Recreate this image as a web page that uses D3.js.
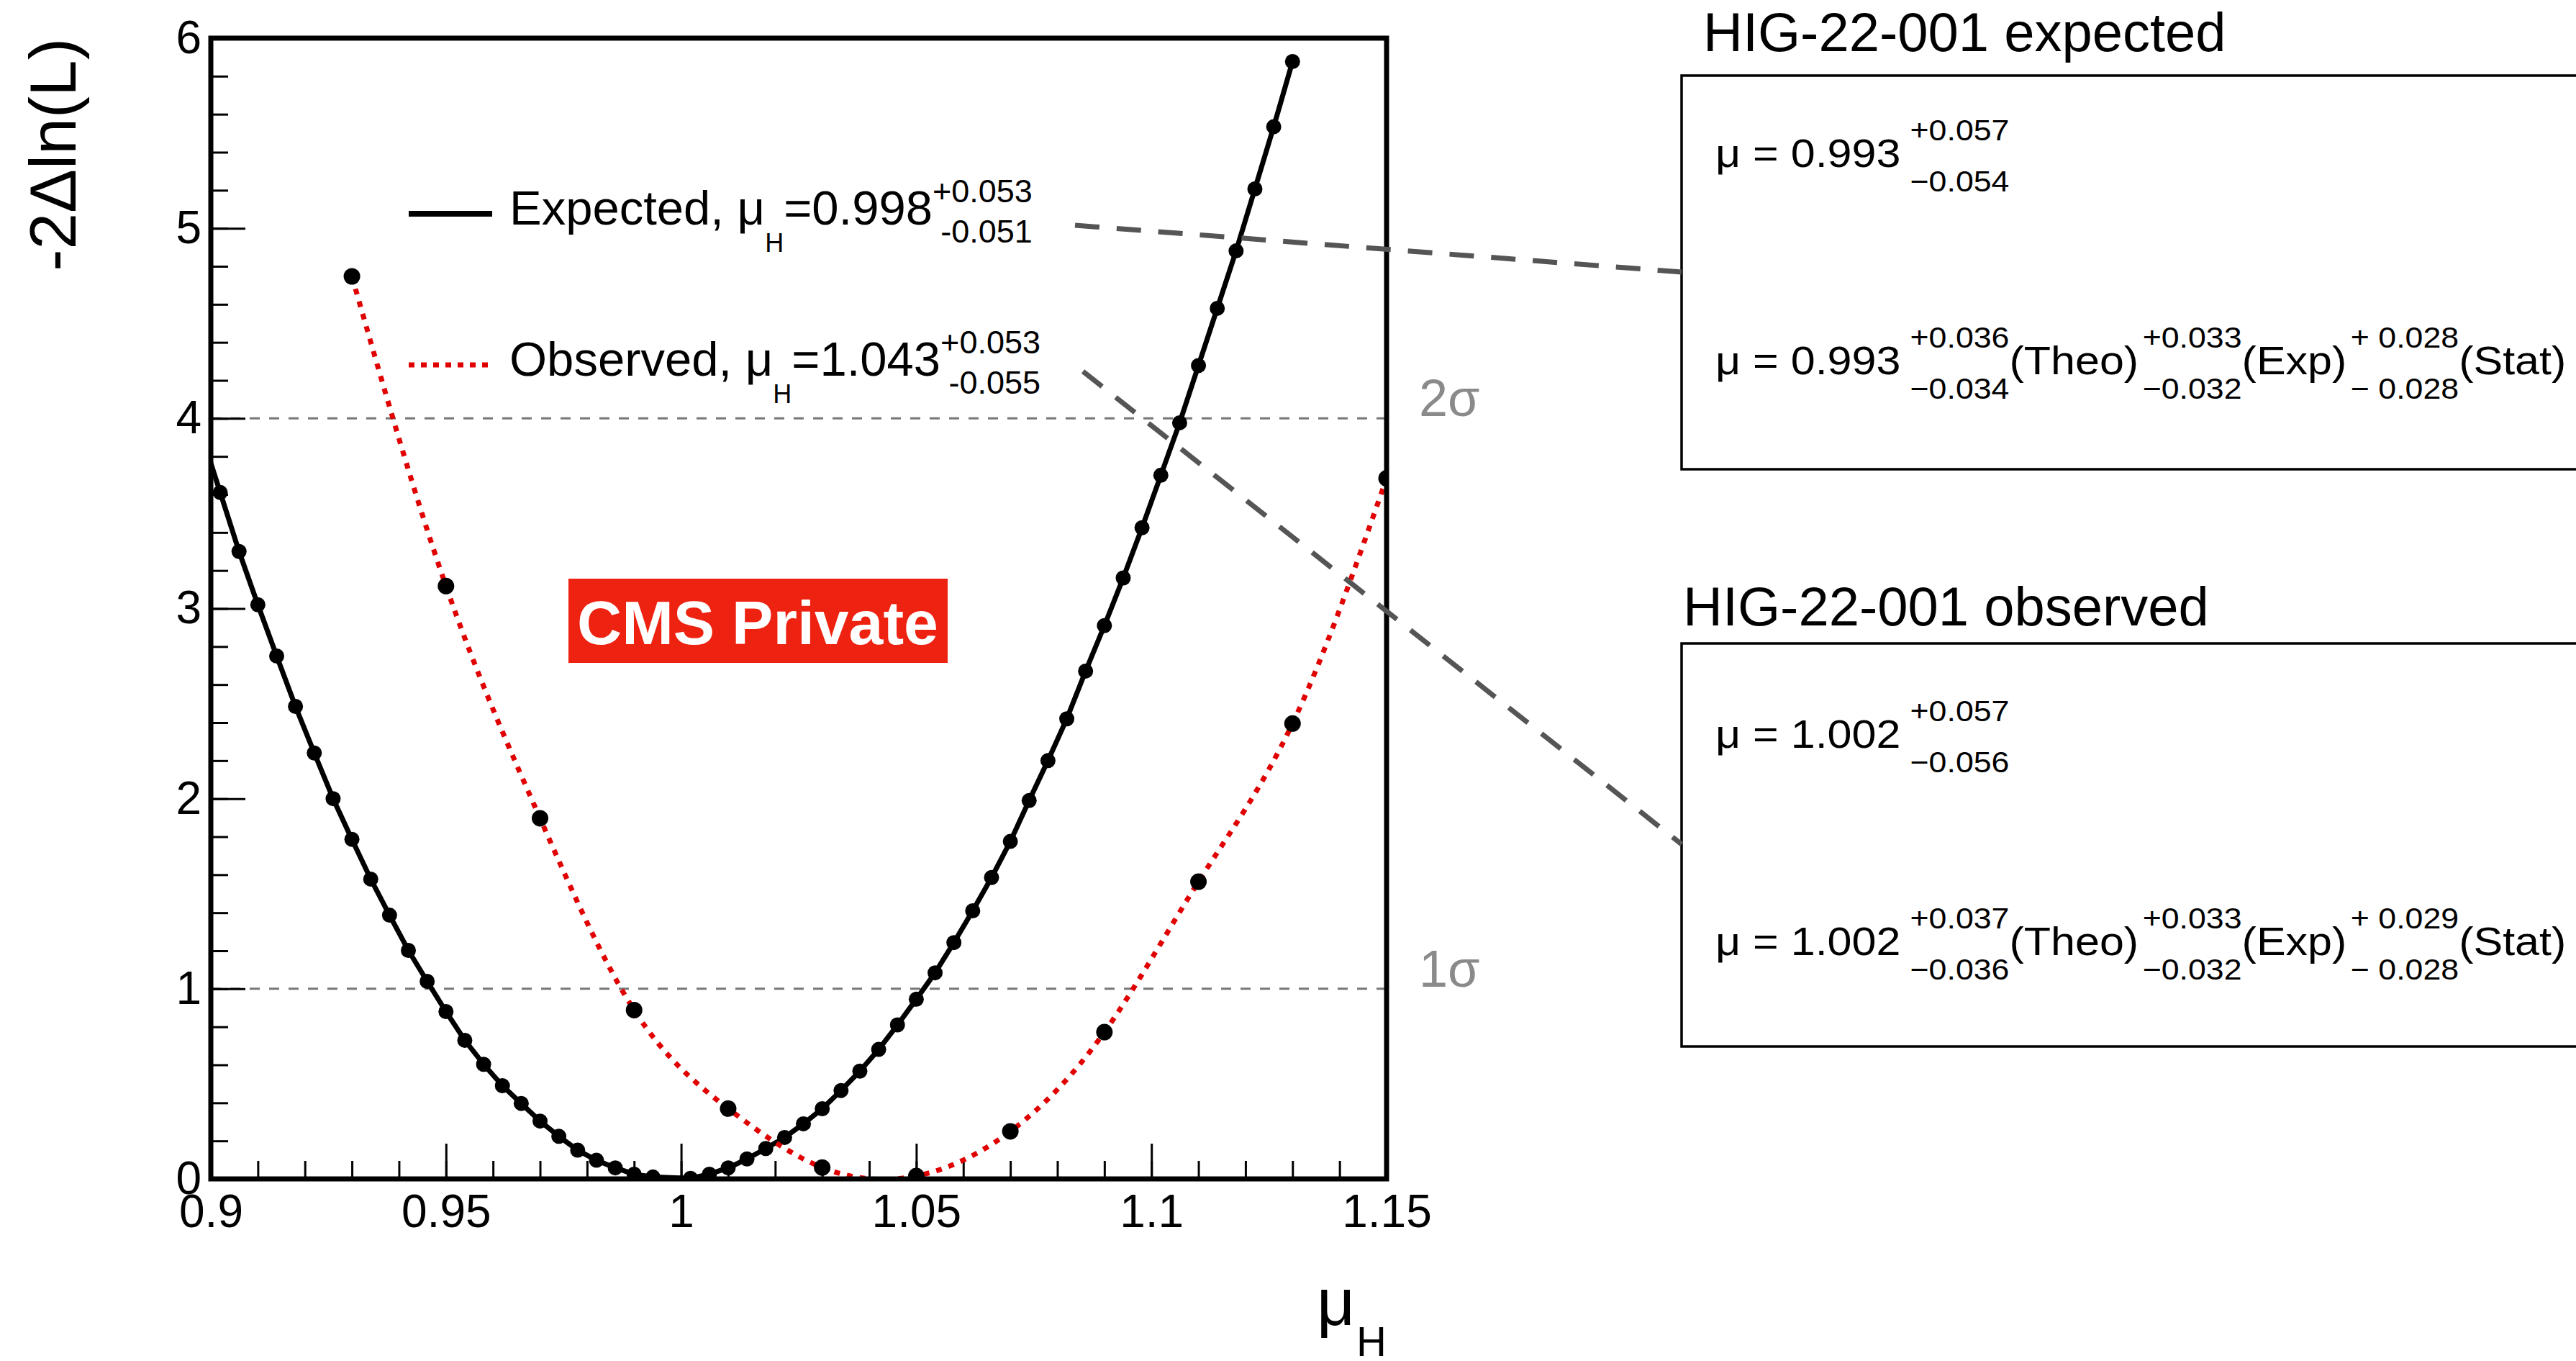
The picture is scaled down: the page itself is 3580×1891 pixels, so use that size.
<!DOCTYPE html>
<html><head><meta charset="utf-8">
<script src="https://cdn.jsdelivr.net/npm/d3@7"></script>
<style>
body{margin:0;background:#fff}
svg{display:block}
text{font-family:"Liberation Sans",Arial,Helvetica,sans-serif}
</style>
</head><body>
<svg id="chart" width="3580" height="1891"></svg>
<script>
// ---------------- data ----------------
const expectedMu = [0.898,0.902,0.906,0.910,0.914,0.918,0.922,0.926,0.930,0.934,0.938,0.942,0.946,0.950,0.954,0.958,0.962,0.966,0.970,0.974,0.978,0.982,0.986,0.990,0.994,1.002,1.006,1.010,1.014,1.018,1.022,1.026,1.030,1.034,1.038,1.042,1.046,1.050,1.054,1.058,1.062,1.066,1.070,1.074,1.078,1.082,1.086,1.090,1.094,1.098,1.102,1.106,1.110,1.114,1.118,1.122,1.126,1.130];
const expectedNLL = [3.92,3.61,3.30,3.02,2.75,2.485,2.24,2.00,1.786,1.577,1.387,1.202,1.039,0.880,0.729,0.603,0.490,0.397,0.304,0.224,0.151,0.098,0.058,0.025,0.010,0.003,0.025,0.058,0.105,0.160,0.218,0.290,0.369,0.465,0.567,0.681,0.810,0.945,1.084,1.243,1.410,1.585,1.775,1.990,2.200,2.420,2.671,2.910,3.161,3.425,3.701,3.977,4.278,4.579,4.881,5.207,5.534,5.877];
const observedMu  = [0.93,0.95,0.97,0.99,1.01,1.03,1.05,1.07,1.09,1.11,1.13,1.15];
const observedNLL = [4.747,3.118,1.897,0.888,0.370,0.060,0.015,0.250,0.772,1.563,2.395,3.685];

const xTickValues = [0.9,0.95,1.0,1.05,1.1,1.15];
const xTickLabels = ["0.9","0.95","1","1.05","1.1","1.15"];
const yTickValues = [0,1,2,3,4,5,6];
const yTickLabels = ["0","1","2","3","4","5","6"];
const sigmaLevels = [1,4];
const sigmaLabels = ["1σ","2σ"];

const legendExpected = {label:"Expected, μ", sub:"H", value:"=0.998", up:"+0.053", down:"-0.051"};
const legendObserved = {label:"Observed, μ", sub:"H", value:"=1.043", up:"+0.053", down:"-0.055"};

const boxExpected = {title:"HIG-22-001 expected", central:"μ = 0.993", total:["+0.057","−0.054"],
  parts:[["+0.036","−0.034","(Theo)"],["+0.033","−0.032","(Exp)"],["+ 0.028","− 0.028","(Stat)"]]};
const boxObserved = {title:"HIG-22-001 observed", central:"μ = 1.002", total:["+0.057","−0.056"],
  parts:[["+0.037","−0.036","(Theo)"],["+0.033","−0.032","(Exp)"],["+ 0.029","− 0.028","(Stat)"]]};

// ---------------- layout ----------------
const svg = d3.select("#chart");
const L = 293, R = 1927, T = 53, B = 1638;
const x = d3.scaleLinear().domain([0.9,1.15]).range([L,R]);
const y = d3.scaleLinear().domain([0,6]).range([B,T]);
const FONT_TICK = 64;

svg.append("rect").attr("width",3580).attr("height",1891).attr("fill","#fff");

svg.append("defs").append("clipPath").attr("id","frameClip")
  .append("rect").attr("x",L).attr("y",T).attr("width",R-L).attr("height",B-T);

// sigma reference lines
svg.append("g").selectAll("line").data(sigmaLevels).join("line")
  .attr("x1",L).attr("x2",R).attr("y1",d=>y(d)).attr("y2",d=>y(d))
  .attr("stroke","#777").attr("stroke-width",3).attr("stroke-dasharray","14,13");
svg.append("g").selectAll("text").data(sigmaLevels).join("text")
  .attr("x",1972).attr("y",d=>y(d)-3).attr("font-size",72).attr("fill","#8a8a8a")
  .text((d,i)=>sigmaLabels[i]);

// axes: minor
const gxMinor = svg.append("g").attr("transform",`translate(0,${B})`)
  .call(d3.axisBottom(x).ticks(25).tickSize(-25).tickFormat(""));
const gyMinor = svg.append("g").attr("transform",`translate(${L},0)`)
  .call(d3.axisLeft(y).ticks(30).tickSize(-24).tickFormat(""));
// axes: major
const gx = svg.append("g").attr("transform",`translate(0,${B})`)
  .call(d3.axisBottom(x).tickValues(xTickValues).tickSize(-49).tickPadding(22)
    .tickFormat((d,i)=>xTickLabels[i]));
const gy = svg.append("g").attr("transform",`translate(${L},0)`)
  .call(d3.axisLeft(y).tickValues(yTickValues).tickSize(-48).tickPadding(13)
    .tickFormat((d,i)=>yTickLabels[i]));
[gxMinor,gyMinor,gx,gy].forEach(g=>{
  g.select(".domain").remove();
  g.selectAll(".tick line").attr("stroke","#000").attr("stroke-width",3);
  g.selectAll(".tick text").attr("font-size",FONT_TICK).attr("fill","#000")
    .attr("font-family",'"Liberation Sans",Arial,sans-serif');
});

// curves
const plot = svg.append("g").attr("clip-path","url(#frameClip)");
const expData = expectedMu.map((m,i)=>[m,expectedNLL[i]]);
const obsData = observedMu.map((m,i)=>[m,observedNLL[i]]);
plot.append("path").datum(expData)
  .attr("d",d3.line().x(d=>x(d[0])).y(d=>y(d[1])))
  .attr("fill","none").attr("stroke","#000").attr("stroke-width",7).attr("stroke-linejoin","round");
plot.append("g").selectAll("circle").data(expData).join("circle")
  .attr("cx",d=>x(d[0])).attr("cy",d=>y(d[1])).attr("r",10.5).attr("fill","#000");
plot.append("path").datum(obsData)
  .attr("d",d3.line().curve(d3.curveNatural).x(d=>x(d[0])).y(d=>y(d[1])))
  .attr("fill","none").attr("stroke","#e00000").attr("stroke-width",7).attr("stroke-dasharray","8,10");
plot.append("g").selectAll("circle").data(obsData).join("circle")
  .attr("cx",d=>x(d[0])).attr("cy",d=>y(d[1])).attr("r",11.5).attr("fill","#000");

// frame
svg.append("rect").attr("x",L).attr("y",T).attr("width",R-L).attr("height",B-T)
  .attr("fill","none").attr("stroke","#000").attr("stroke-width",7);

// axis titles
svg.append("text").attr("transform","translate(105,53) rotate(-90)")
  .attr("text-anchor","end").attr("font-size",91).text("-2Δln(L)");
{
  const gt = svg.append("g");
  const hs = gt.append("text").attr("font-size",58).attr("y",1884).text("H");
  const hw = hs.node().getComputedTextLength();
  hs.attr("x",R-hw);
  gt.append("text").attr("font-size",92).attr("x",R-hw-2).attr("y",1841).attr("text-anchor","end").text("μ");
}

// math line helper
function mathLine(parent, x0, y0, sx, items){
  const g = parent.append("g").attr("transform",`translate(${x0},${y0}) scale(${sx},1)`);
  let cx = 0;
  for(const it of items){
    if(it.gap!=null){ cx += it.gap; continue; }
    if(it.t!=null){
      const t = g.append("text").attr("x",cx).attr("y",it.dy||0).attr("font-size",it.fs).text(it.t);
      cx += t.node().getComputedTextLength();
    } else {
      const a = g.append("text").attr("y",it.upDy).attr("font-size",it.fs).text(it.up);
      const b = g.append("text").attr("y",it.downDy).attr("font-size",it.fs).text(it.down);
      const w = Math.max(a.node().getComputedTextLength(), b.node().getComputedTextLength());
      if(it.align==="right"){ a.attr("x",cx+w).attr("text-anchor","end"); b.attr("x",cx+w).attr("text-anchor","end"); }
      else { a.attr("x",cx); b.attr("x",cx); }
      cx += w;
    }
  }
  return g;
}

// legend
function legendRow(entry, yBase, yLine, dotted){
  const ln = svg.append("line").attr("x1",568).attr("x2",684).attr("y1",yLine).attr("y2",yLine);
  if(dotted) ln.attr("stroke","#e00000").attr("stroke-width",7).attr("stroke-dasharray","8,9");
  else ln.attr("stroke","#000").attr("stroke-width",8);
  mathLine(svg, 708, yBase, 1, [
    {t:entry.label, fs:67},
    {t:entry.sub, fs:36, dy:38},
    {t:entry.value, fs:67},
    {up:entry.up, down:entry.down, fs:45, upDy:-31, downDy:25, align:"right"}
  ]);
}
legendRow(legendExpected, 312, 297, false);
legendRow(legendObserved, 522, 507, true);

// CMS Private label
svg.append("rect").attr("x",790).attr("y",804).attr("width",527).attr("height",117).attr("fill","#ee2211");
svg.append("text").attr("x",1053).attr("y",895).attr("text-anchor","middle")
  .attr("font-size",86).attr("font-weight","bold").attr("fill","#fff").text("CMS Private");

// result boxes
function resultBox(b, top, bottom, titleX, titleY, line1Y, line2Y){
  svg.append("rect").attr("x",2337).attr("y",top).attr("width",1400).attr("height",bottom-top)
    .attr("fill","none").attr("stroke","#000").attr("stroke-width",3.5);
  svg.append("text").attr("x",titleX).attr("y",titleY).attr("font-size",76).text(b.title);
  const sx = 1.09, fm = 56, fs = 41, upDy = -37, downDy = 34;
  mathLine(svg, 2384, line1Y, sx, [
    {t:b.central, fs:fm}, {gap:12},
    {up:b.total[0], down:b.total[1], fs:fs, upDy, downDy}
  ]);
  const items = [{t:b.central, fs:fm}, {gap:12}];
  b.parts.forEach((p,i)=>{
    items.push({up:p[0], down:p[1], fs:fs, upDy, downDy});
    items.push({t:p[2], fs:fm});
    if(i<b.parts.length-1) items.push({gap:5});
  });
  mathLine(svg, 2384, line2Y, sx, items);
}
resultBox(boxExpected, 105, 652, 2367, 71, 232, 520);
resultBox(boxObserved, 894, 1454, 2339, 869, 1039, 1327);

// connector lines
const connectors = [[1494,313,2337,378],[1505,516,2337,1173]];
svg.append("g").selectAll("line").data(connectors).join("line")
  .attr("x1",d=>d[0]).attr("y1",d=>d[1]).attr("x2",d=>d[2]).attr("y2",d=>d[3])
  .attr("stroke","#555").attr("stroke-width",7).attr("stroke-dasharray","34,24");
</script>
</body></html>
